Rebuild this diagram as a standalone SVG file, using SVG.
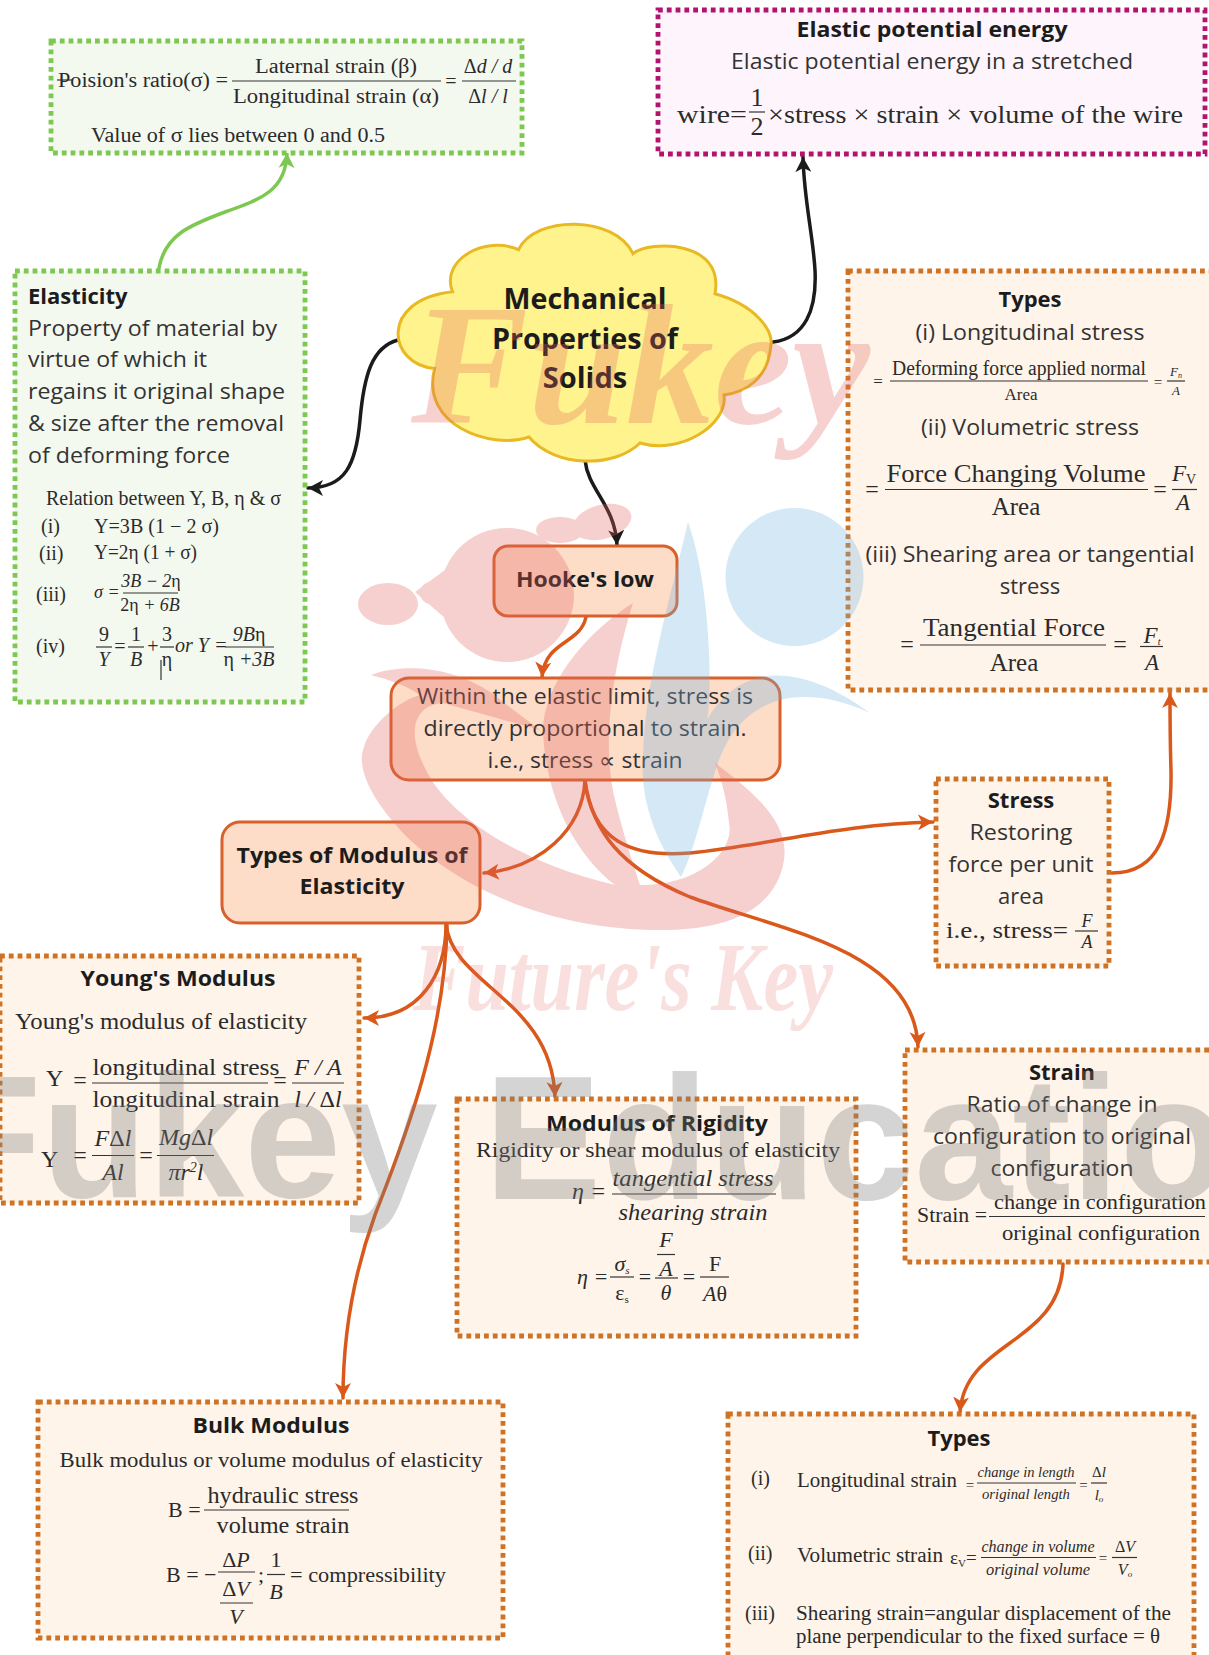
<svg xmlns="http://www.w3.org/2000/svg" width="1209" height="1655" viewBox="0 0 1209 1655">
<style>
text{fill:#2b2b2b}
.o{font-family:"Open Sans","Liberation Sans",sans-serif;font-size:22px;fill:#333}
.ob{font-family:"Open Sans","Liberation Sans",sans-serif;font-weight:700;font-size:22px;fill:#1c1c1c}
.s{font-family:"Liberation Serif","Times New Roman",serif;font-size:20px}
.i{font-family:"Liberation Serif","Times New Roman",serif;font-size:20px;font-style:italic}
.u{font-style:normal}
.m{text-anchor:middle}
.box{stroke-width:4.8;stroke-dasharray:4.8 4}
.g{fill:#f4f9f0;stroke:#7cc850}
.p{fill:#fdf5fb;stroke:#b3126e}
.y{fill:#fef4ea;stroke:#cf7223}
.n{fill:#fddcc8;stroke:#d9602a;stroke-width:3}
.f{stroke:#333;stroke-width:1.2;fill:none}
.c{fill:none;stroke-width:3.5;stroke-linecap:round}
.ck{stroke:#1b1b1b}.cr{stroke:#d9581a}.cg{stroke:#7cc850}
</style>
<defs>
<marker id="ak" markerUnits="userSpaceOnUse" markerWidth="20" markerHeight="20" refX="15" refY="9" orient="auto"><path d="M0 1L15 9L0 17L4 9Z" fill="#1b1b1b"/></marker>
<marker id="ar" markerUnits="userSpaceOnUse" markerWidth="20" markerHeight="20" refX="15" refY="9" orient="auto"><path d="M0 1L15 9L0 17L4 9Z" fill="#d9581a"/></marker>
<marker id="ag" markerUnits="userSpaceOnUse" markerWidth="20" markerHeight="20" refX="15" refY="9" orient="auto"><path d="M0 1L15 9L0 17L4 9Z" fill="#7cc850"/></marker>
</defs>
<rect width="1209" height="1655" fill="#fff"/>

<g id="connectors">
<path class="c cg" marker-end="url(#ag)" d="M159 268C165 235 190 225 225 212C262 199 286 190 287 153"/>
<path class="c ck" marker-end="url(#ak)" d="M398 340C372 347 364 375 360 420C356 465 345 488 308 488"/>
<path class="c ck" marker-end="url(#ak)" d="M773 342C805 338 817 310 815 270C813 235 804 200 803 157"/>
<path class="c ck" marker-end="url(#ak)" d="M585 460C588 490 615 505 617 545"/>
<path class="c cr" marker-end="url(#ar)" d="M586 617C580 645 545 640 542 677"/>
<path class="c cr" marker-end="url(#ar)" d="M585 781C582 830 540 868 484 873"/>
<path class="c cr" marker-end="url(#ar)" d="M585 781C592 840 630 858 690 853C770 845 840 824 933 822"/>
<path class="c cr" marker-end="url(#ar)" d="M585 781C592 830 620 868 690 897C780 930 915 950 918 1047"/>
<path class="c cr" marker-end="url(#ar)" d="M1112 873C1160 873 1172 830 1171 770C1170 740 1170 720 1170 693"/>
<path class="c cr" marker-end="url(#ar)" d="M446 924C446 975 420 1018 364 1018"/>
<path class="c cr" marker-end="url(#ar)" d="M446 924C452 985 552 1000 555 1097"/>
<path class="c cr" marker-end="url(#ar)" d="M447 925C445 1040 400 1150 375 1215C355 1270 343 1330 343 1398"/>
<path class="c cr" marker-end="url(#ar)" d="M1063 1264C1060 1345 965 1340 960 1412"/>
</g>

<g id="poisson-ratio">
<rect class="box g" x="51" y="41" width="471" height="112"/>
<text class="s" x="58" y="87" textLength="170" lengthAdjust="spacingAndGlyphs">Poision's ratio(σ) =</text>
<line class="f" x1="57" y1="80" x2="72" y2="80"/>
<text class="s m" x="336" y="73" textLength="162" lengthAdjust="spacingAndGlyphs">Laternal strain (β)</text>
<line class="f" x1="232" y1="81" x2="441" y2="81"/>
<text class="s m" x="336" y="103" textLength="206" lengthAdjust="spacingAndGlyphs">Longitudinal strain (α)</text>
<text class="s m" x="451" y="88">=</text>
<text class="i m" x="488" y="73"><tspan class="u">Δ</tspan>d / d</text>
<line class="f" x1="462" y1="81" x2="516" y2="81"/>
<text class="i m" x="488" y="103"><tspan class="u">Δ</tspan>l / l</text>
<text class="s" x="91" y="142" textLength="294" lengthAdjust="spacingAndGlyphs">Value of σ lies between 0 and 0.5</text>
</g>

<g id="elasticity">
<rect class="box g" x="15" y="271" width="290" height="431"/>
<text class="ob" x="28" y="304">Elasticity</text>
<text class="o" x="28" y="336" textLength="249" lengthAdjust="spacingAndGlyphs">Property of material by</text>
<text class="o" x="28" y="367" textLength="179" lengthAdjust="spacingAndGlyphs">virtue of which it</text>
<text class="o" x="28" y="398.5" textLength="257" lengthAdjust="spacingAndGlyphs">regains it original shape</text>
<text class="o" x="28" y="430.5" textLength="256" lengthAdjust="spacingAndGlyphs">&amp; size after the removal</text>
<text class="o" x="28" y="462.5" textLength="202" lengthAdjust="spacingAndGlyphs">of deforming force</text>
<text class="s" x="46" y="505" font-size="19" textLength="235" lengthAdjust="spacingAndGlyphs">Relation between Y, B, η &amp; σ</text>
<text class="s" x="41" y="533">(i)</text>
<text class="s" x="94" y="533" textLength="125" lengthAdjust="spacingAndGlyphs">Y=3B (1 − 2 σ)</text>
<text class="s" x="39" y="560">(ii)</text>
<text class="s" x="94" y="559" textLength="103" lengthAdjust="spacingAndGlyphs">Y=2η (1 + σ)</text>
<text class="s" x="36" y="601">(iii)</text>
<text class="i" x="94" y="598" style="font-size:18px">σ =</text>
<text class="i m" x="151" y="587" style="font-size:18px">3B − 2<tspan class="u">η</tspan></text>
<line class="f" x1="123" y1="593" x2="178" y2="593"/>
<text class="i m" x="150" y="611" style="font-size:18px"><tspan class="u">2η</tspan> + 6B</text>
<text class="s" x="36" y="653">(iv)</text>
<text class="s m" x="104" y="641">9</text><line class="f" x1="96" y1="647" x2="112" y2="647"/><text class="i m" x="104" y="666">Y</text>
<text class="s m" x="120" y="653">=</text>
<text class="s m" x="136" y="641">1</text><line class="f" x1="128" y1="647" x2="144" y2="647"/><text class="i m" x="136" y="666">B</text>
<text class="s m" x="153" y="653">+</text>
<text class="s m" x="167" y="641">3</text><line class="f" x1="160" y1="647" x2="174" y2="647"/><text class="s m" x="167" y="666">η</text>
<line class="f" x1="161" y1="660" x2="161" y2="680"/>
<text class="i" x="175" y="652">or Y =</text>
<text class="i m" x="249" y="641">9B<tspan class="u">η</tspan></text><line class="f" x1="225" y1="647" x2="274" y2="647"/><text class="i m" x="249" y="666"><tspan class="u">η</tspan> +3B</text>
</g>

<g id="elastic-potential-energy">
<rect class="box p" x="658" y="10" width="547" height="144"/>
<text class="ob m" x="932" y="37" textLength="271" lengthAdjust="spacingAndGlyphs">Elastic potential energy</text>
<text class="o m" x="932" y="69" textLength="402" lengthAdjust="spacingAndGlyphs">Elastic potential energy in a stretched</text>
<text class="s" x="677" y="123" style="font-size:26px" textLength="70" lengthAdjust="spacingAndGlyphs">wire=</text>
<text class="s m" x="757" y="106" style="font-size:26px">1</text>
<line class="f" x1="749" y1="112" x2="765" y2="112"/>
<text class="s m" x="757" y="135" style="font-size:26px">2</text>
<text class="s" x="768" y="123" style="font-size:26px" textLength="415" lengthAdjust="spacingAndGlyphs">×stress × strain × volume of the wire</text>
</g>

<g id="stress-types">
<rect class="box y" x="848" y="271" width="375" height="419"/>
<text class="ob m" x="1030" y="307">Types</text>
<text class="o m" x="1030" y="339.5" textLength="229" lengthAdjust="spacingAndGlyphs">(i) Longitudinal stress</text>
<text class="s m" x="878" y="387" style="font-size:17px">=</text>
<text class="s m" x="1019" y="375" textLength="254" lengthAdjust="spacingAndGlyphs">Deforming force applied normal</text>
<line class="f" x1="890" y1="381" x2="1148" y2="381"/>
<text class="s m" x="1021" y="400" style="font-size:17px">Area</text>
<text class="s m" x="1158" y="387" style="font-size:15px">=</text>
<text class="i m" x="1176" y="376" style="font-size:13px">F<tspan font-size="8" dy="2">n</tspan></text>
<line class="f" x1="1167" y1="381" x2="1185" y2="381"/>
<text class="i m" x="1176" y="395" style="font-size:13px">A</text>
<text class="o m" x="1030" y="435" textLength="218" lengthAdjust="spacingAndGlyphs">(ii) Volumetric stress</text>
<text class="s m" x="872" y="497" style="font-size:24px">=</text>
<text class="s m" x="1016" y="482" style="font-size:25px" textLength="259" lengthAdjust="spacingAndGlyphs">Force Changing Volume</text>
<line class="f" x1="885" y1="489.5" x2="1148" y2="489.5"/>
<text class="s m" x="1016" y="515" style="font-size:25px">Area</text>
<text class="s m" x="1160" y="497" style="font-size:24px">=</text>
<text class="i m" x="1184" y="481" style="font-size:23px">F<tspan class="u" font-size="14" dy="3">V</tspan></text>
<line class="f" x1="1172" y1="489.5" x2="1197" y2="489.5"/>
<text class="i m" x="1183" y="510" style="font-size:23px">A</text>
<text class="o m" x="1030" y="561.5" textLength="329" lengthAdjust="spacingAndGlyphs">(iii) Shearing area or tangential</text>
<text class="o m" x="1030" y="593.5">stress</text>
<text class="s m" x="907" y="652" style="font-size:24px">=</text>
<text class="s m" x="1014" y="636" style="font-size:25px" textLength="182" lengthAdjust="spacingAndGlyphs">Tangential Force</text>
<line class="f" x1="920" y1="645" x2="1106" y2="645"/>
<text class="s m" x="1014" y="671" style="font-size:25px">Area</text>
<text class="s m" x="1120" y="652" style="font-size:24px">=</text>
<text class="i m" x="1152" y="643" style="font-size:23px">F<tspan font-size="10" dy="2">t</tspan></text>
<line class="f" x1="1140" y1="646.5" x2="1163" y2="646.5"/>
<text class="i m" x="1152" y="670" style="font-size:23px">A</text>
</g>

<g id="mechanical-properties">
<path d="M518.6 249.7C535 215 615 215 633 253.6C650 240 725 240 715 293.8C755 305 773 330 771 345C768 380 745 392 724 395C728 425 680 455 640 443C615 468 555 468 529 437C490 450 420 425 434.6 368.4C388 365 378 300 452.5 291.8C440 260 485 235 518.6 249.7Z" fill="#fff38d" stroke="#e8b923" stroke-width="3"/>
<text class="ob m" x="585" y="309" style="font-size:29px" textLength="163" lengthAdjust="spacingAndGlyphs">Mechanical</text>
<text class="ob m" x="585" y="348.5" style="font-size:29px" textLength="186" lengthAdjust="spacingAndGlyphs">Properties of</text>
<text class="ob m" x="585" y="387.5" style="font-size:29px">Solids</text>
</g>

<g id="hookes-law">
<rect class="n" x="494" y="546" width="183" height="70" rx="14"/>
<text class="ob m" x="585" y="586.5" textLength="138" lengthAdjust="spacingAndGlyphs">Hooke's low</text>
</g>

<g id="proportionality">
<rect class="n" x="391" y="678" width="389" height="102" rx="18"/>
<text class="o m" x="585" y="704" textLength="336" lengthAdjust="spacingAndGlyphs">Within the elastic limit, stress is</text>
<text class="o m" x="585" y="735.5" textLength="323" lengthAdjust="spacingAndGlyphs">directly proportional to strain.</text>
<text class="o m" x="585" y="767.5" textLength="195" lengthAdjust="spacingAndGlyphs">i.e., stress ∝ strain</text>
</g>

<g id="types-of-modulus">
<rect class="n" x="222" y="822" width="258" height="101" rx="18"/>
<text class="ob m" x="352" y="862.5" textLength="231" lengthAdjust="spacingAndGlyphs">Types of Modulus of</text>
<text class="ob m" x="352" y="894" textLength="105" lengthAdjust="spacingAndGlyphs">Elasticity</text>
</g>

<g id="stress">
<rect class="box y" x="936" y="779" width="173" height="187"/>
<text class="ob m" x="1021" y="808">Stress</text>
<text class="o m" x="1021" y="840" textLength="103" lengthAdjust="spacingAndGlyphs">Restoring</text>
<text class="o m" x="1021" y="871.5" textLength="145" lengthAdjust="spacingAndGlyphs">force per unit</text>
<text class="o m" x="1021" y="903.5">area</text>
<text class="s" x="946" y="938" style="font-size:23px" textLength="122" lengthAdjust="spacingAndGlyphs">i.e., stress=</text>
<text class="i m" x="1087" y="927" style="font-size:18px">F</text>
<line class="f" x1="1075" y1="931" x2="1098" y2="931"/>
<text class="i m" x="1087" y="948" style="font-size:18px">A</text>
</g>

<g id="youngs-modulus">
<rect class="box y" x="0" y="956" width="359" height="247"/>
<text class="ob m" x="178" y="986" textLength="195" lengthAdjust="spacingAndGlyphs">Young's Modulus</text>
<text class="s" x="15" y="1029" style="font-size:23px" textLength="292" lengthAdjust="spacingAndGlyphs">Young's modulus of elasticity</text>
<text class="s" x="46" y="1086" style="font-size:24px">Y</text>
<text class="s m" x="80" y="1088" style="font-size:24px">=</text>
<text class="s m" x="186" y="1075" style="font-size:24px" textLength="187" lengthAdjust="spacingAndGlyphs">longitudinal stress</text>
<line class="f" x1="92" y1="1083" x2="268" y2="1083"/>
<text class="s m" x="186" y="1107" style="font-size:24px" textLength="187" lengthAdjust="spacingAndGlyphs">longitudinal strain</text>
<text class="s m" x="280" y="1088" style="font-size:24px">=</text>
<text class="i m" x="318" y="1075" style="font-size:24px">F / A</text>
<line class="f" x1="292" y1="1083" x2="344" y2="1083"/>
<text class="i m" x="318" y="1107" style="font-size:24px">l / <tspan class="u">Δ</tspan>l</text>
<text class="s" x="41" y="1167" style="font-size:24px">Y</text>
<text class="s m" x="80" y="1163" style="font-size:24px">=</text>
<text class="i m" x="113" y="1146" style="font-size:24px">F<tspan class="u">Δ</tspan>l</text>
<line class="f" x1="92" y1="1155.5" x2="134" y2="1155.5"/>
<text class="i m" x="113" y="1180" style="font-size:24px">Al</text>
<text class="s m" x="146" y="1163" style="font-size:24px">=</text>
<text class="i m" x="186" y="1145" style="font-size:24px">Mg<tspan class="u">Δ</tspan>l</text>
<line class="f" x1="157" y1="1155.5" x2="214" y2="1155.5"/>
<text class="i m" x="186" y="1180" style="font-size:24px">πr<tspan font-size="14" dy="-8">2</tspan><tspan dy="8">l</tspan></text>
</g>

<g id="modulus-of-rigidity">
<rect class="box y" x="457" y="1099" width="399" height="237"/>
<text class="ob m" x="657" y="1131" textLength="222" lengthAdjust="spacingAndGlyphs">Modulus of Rigidity</text>
<text class="s" x="476" y="1157" style="font-size:22px" textLength="364" lengthAdjust="spacingAndGlyphs">Rigidity or shear modulus of elasticity</text>
<text class="i" x="572" y="1199" style="font-size:24px">η =</text>
<text class="i m" x="693" y="1186" style="font-size:24px" textLength="161" lengthAdjust="spacingAndGlyphs">tangential stress</text>
<line class="f" x1="612" y1="1194" x2="776" y2="1194"/>
<text class="i m" x="693" y="1219.5" style="font-size:24px" textLength="149" lengthAdjust="spacingAndGlyphs">shearing strain</text>
<text class="i m" x="666" y="1246.5" style="font-size:22px">F</text>
<line class="f" x1="657" y1="1254.5" x2="675" y2="1254.5"/>
<text class="i m" x="666" y="1276" style="font-size:22px">A</text>
<line class="f" x1="655" y1="1278" x2="678" y2="1278"/>
<text class="i m" x="666" y="1299.5" style="font-size:22px">θ</text>
<text class="i" x="577" y="1284" style="font-size:22px">η =</text>
<text class="i m" x="622" y="1271" style="font-size:22px">σ<tspan font-size="11" dy="3">s</tspan></text>
<line class="f" x1="610" y1="1277" x2="634" y2="1277"/>
<text class="s m" x="622" y="1299.5" style="font-size:22px">ε<tspan font-size="11" dy="3">s</tspan></text>
<text class="s m" x="645" y="1284" style="font-size:22px">=</text>
<text class="s m" x="689" y="1284" style="font-size:22px">=</text>
<text class="s m" x="715" y="1271" style="font-size:22px">F</text>
<line class="f" x1="700" y1="1277" x2="729" y2="1277"/>
<text class="i m" x="715" y="1301" style="font-size:22px">A<tspan class="u">θ</tspan></text>
</g>

<g id="strain">
<rect class="box y" x="905" y="1050" width="320" height="212"/>
<text class="ob m" x="1062" y="1080">Strain</text>
<text class="o m" x="1062" y="1112" textLength="191" lengthAdjust="spacingAndGlyphs">Ratio of change in</text>
<text class="o m" x="1062" y="1144" textLength="258" lengthAdjust="spacingAndGlyphs">configuration to original</text>
<text class="o m" x="1062" y="1176" textLength="143" lengthAdjust="spacingAndGlyphs">configuration</text>
<text class="s" x="917" y="1222" textLength="70" lengthAdjust="spacingAndGlyphs">Strain =</text>
<text class="s m" x="1100" y="1209" style="font-size:22px" textLength="212" lengthAdjust="spacingAndGlyphs">change in configuration</text>
<line class="f" x1="989" y1="1216.5" x2="1205" y2="1216.5"/>
<text class="s m" x="1101" y="1240" style="font-size:22px" textLength="198" lengthAdjust="spacingAndGlyphs">original configuration</text>
</g>

<g id="bulk-modulus">
<rect class="box y" x="38" y="1402" width="465" height="236"/>
<text class="ob m" x="271" y="1433" textLength="157" lengthAdjust="spacingAndGlyphs">Bulk Modulus</text>
<text class="s m" x="271" y="1467" style="font-size:21px" textLength="423" lengthAdjust="spacingAndGlyphs">Bulk modulus or volume modulus of elasticity</text>
<text class="s" x="168" y="1517" style="font-size:22px">B =</text>
<text class="s m" x="283" y="1503" style="font-size:23px" textLength="151" lengthAdjust="spacingAndGlyphs">hydraulic stress</text>
<line class="f" x1="204" y1="1510" x2="349" y2="1510"/>
<text class="s m" x="283" y="1533" style="font-size:23px" textLength="133" lengthAdjust="spacingAndGlyphs">volume strain</text>
<text class="s" x="166" y="1582" style="font-size:22px">B = −</text>
<text class="i m" x="236" y="1567" style="font-size:22px"><tspan class="u">Δ</tspan>P</text>
<line class="f" x1="218" y1="1572" x2="255" y2="1572"/>
<text class="i m" x="236" y="1596" style="font-size:22px"><tspan class="u">Δ</tspan>V</text>
<line class="f" x1="220" y1="1603" x2="253" y2="1603"/>
<text class="i m" x="236" y="1624" style="font-size:22px">V</text>
<text class="s m" x="261" y="1582" style="font-size:22px">;</text>
<text class="s m" x="276" y="1567" style="font-size:22px">1</text>
<line class="f" x1="267" y1="1574.5" x2="285" y2="1574.5"/>
<text class="i m" x="276" y="1598.5" style="font-size:22px">B</text>
<text class="s" x="290" y="1582" style="font-size:22px" textLength="156" lengthAdjust="spacingAndGlyphs">= compressibility</text>
</g>

<g id="strain-types">
<rect class="box y" x="728" y="1414" width="466" height="280"/>
<text class="ob m" x="959" y="1446">Types</text>
<text class="s" x="751" y="1485">(i)</text>
<text class="s" x="797" y="1487" textLength="160" lengthAdjust="spacingAndGlyphs">Longitudinal strain</text>
<text class="s m" x="970" y="1490" style="font-size:15px">=</text>
<text class="i m" x="1026" y="1477" style="font-size:15px" textLength="97" lengthAdjust="spacingAndGlyphs">change in length</text>
<line class="f" x1="977" y1="1483" x2="1076" y2="1483"/>
<text class="i m" x="1026" y="1499" style="font-size:15px" textLength="88" lengthAdjust="spacingAndGlyphs">original length</text>
<text class="s m" x="1083.5" y="1490" style="font-size:15px">=</text>
<text class="i m" x="1099" y="1477" style="font-size:15px"><tspan class="u">Δ</tspan>l</text>
<line class="f" x1="1091" y1="1483" x2="1107" y2="1483"/>
<text class="i m" x="1099" y="1500" style="font-size:15px">l<tspan font-size="9" dy="2">o</tspan></text>
<text class="s" x="748" y="1560">(ii)</text>
<text class="s" x="797" y="1562" textLength="146" lengthAdjust="spacingAndGlyphs">Volumetric strain</text>
<text class="s" x="950" y="1564" style="font-size:19px">ε<tspan font-size="11" dy="3">V</tspan><tspan dy="-3">=</tspan></text>
<text class="i m" x="1038" y="1552" style="font-size:16px" textLength="113" lengthAdjust="spacingAndGlyphs">change in volume</text>
<line class="f" x1="981" y1="1557.5" x2="1096" y2="1557.5"/>
<text class="i m" x="1038" y="1575" style="font-size:16px" textLength="104" lengthAdjust="spacingAndGlyphs">original volume</text>
<text class="s m" x="1103" y="1563" style="font-size:15px">=</text>
<text class="i m" x="1125" y="1552" style="font-size:16px"><tspan class="u">Δ</tspan>V</text>
<line class="f" x1="1112" y1="1557.5" x2="1137" y2="1557.5"/>
<text class="i m" x="1125" y="1575" style="font-size:16px">V<tspan font-size="9" dy="2">o</tspan></text>
<text class="s" x="745" y="1619.5">(iii)</text>
<text class="s" x="796" y="1619.5" textLength="375" lengthAdjust="spacingAndGlyphs">Shearing strain=angular displacement of the</text>
<text class="s" x="796" y="1643" textLength="364" lengthAdjust="spacingAndGlyphs">plane perpendicular to the fixed surface = θ</text>
</g>

<g id="watermark">
<g fill="#e2655f" opacity=".3">
<circle cx="507" cy="595" r="67"/>
<ellipse cx="388" cy="604" rx="30" ry="21"/>
<circle cx="431" cy="593" r="11"/>
<path d="M415 592L445 570L445 618Z"/>
<ellipse cx="560" cy="530" rx="24" ry="13"/>
<ellipse cx="602" cy="522" rx="30" ry="17" transform="rotate(-15 602 522)"/>
<path d="M371 675C405 662 455 668 490 692L540 730L443 703C415 705 405 730 426 770C445 810 510 860 615 885L640 885C700 885 735 850 729 823C727 800 722 780 715 763C750 790 790 820 784 860C775 915 720 930 660 930C560 930 470 895 410 840C375 805 355 770 364 747C370 725 400 700 420 695C405 685 390 680 371 675Z"/>
<path d="M633 603C615 660 600 740 615 800C625 840 635 870 640 885L615 885C570 850 545 790 543 730C545 680 590 630 633 603Z"/>
</g>
<path fill="#74b2dd" opacity=".3" d="M688 522C712 590 712 700 707 720C735 670 790 655 870 713C810 685 745 690 719 760C705 800 695 850 681 877C655 840 640 800 643 757C645 680 670 600 688 522Z"/>
<circle cx="794.5" cy="577" r="69" fill="#74b2dd" opacity=".3"/>
<text x="411" y="423" font-family="Liberation Serif" font-style="italic" font-weight="700" font-size="172" style="fill:#e2655f" opacity=".29" textLength="459" lengthAdjust="spacingAndGlyphs">Fukey</text>
<text x="413" y="1010" font-family="Liberation Serif" font-style="italic" font-weight="700" font-size="98" style="fill:#e2655f" opacity=".2" textLength="420" lengthAdjust="spacingAndGlyphs">Future's Key</text>
<text x="-65" y="1197" font-family="Liberation Sans" font-weight="700" font-size="174" style="fill:#7d7d7d" opacity=".32">Fukey</text>
<text x="484" y="1199" font-family="Liberation Sans" font-weight="700" font-size="176" style="fill:#7d7d7d" opacity=".32">Education</text>
</g>
</svg>
